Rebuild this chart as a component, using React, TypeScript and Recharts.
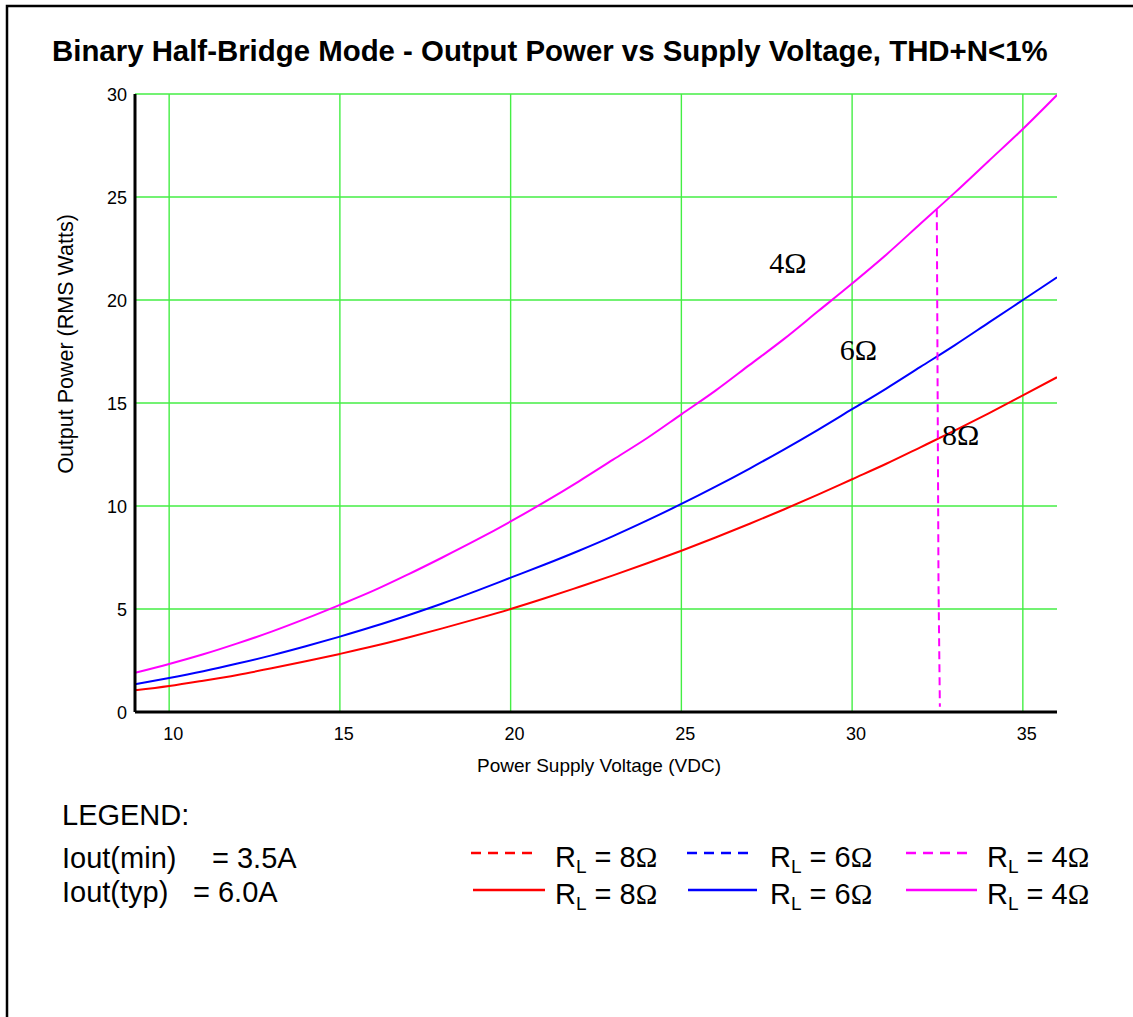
import React from 'react';
import { LineChart, Line, XAxis, YAxis, CartesianGrid, ReferenceDot } from 'recharts';

// ---- data ----
const voltage = [9, 10, 11, 12, 13, 14, 15, 16, 17, 18, 19, 20, 21, 22, 23, 24, 25, 26, 27, 28, 29, 30, 31, 32, 33, 34, 35, 36];
const power8 = [1.05, 1.26, 1.52, 1.8, 2.12, 2.46, 2.82, 3.2, 3.62, 4.06, 4.52, 5.0, 5.52, 6.07, 6.63, 7.22, 7.83, 8.47, 9.14, 9.83, 10.55, 11.3, 12.05, 12.85, 13.66, 14.5, 15.37, 16.25];
const power6 = [1.35, 1.65, 1.98, 2.35, 2.75, 3.19, 3.66, 4.16, 4.7, 5.27, 5.88, 6.52, 7.16, 7.83, 8.54, 9.3, 10.1, 10.94, 11.82, 12.74, 13.7, 14.7, 15.7, 16.75, 17.8, 18.9, 20.0, 21.1];
const power4 = [1.9, 2.33, 2.8, 3.33, 3.9, 4.53, 5.2, 5.9, 6.68, 7.5, 8.35, 9.25, 10.2, 11.2, 12.25, 13.3, 14.45, 15.6, 16.85, 18.1, 19.45, 20.8, 22.2, 23.7, 25.2, 26.75, 28.3, 29.95];
const min4Voltage = [32.48, 32.53, 32.57];
const min4Power = [24.4, 6.2, 0.25];

const xTicks = [10, 15, 20, 25, 30, 35];
const yTicks = [0, 5, 10, 15, 20, 25, 30];
const xDomain = [9, 36];
const yDomain = [0, 30];

const curveLabelText = ['4Ω', '6Ω', '8Ω'];
const curveLabelV = [27.57, 29.64, 32.63];
const curveLabelP = [21.33, 17.09, 12.96];

const title = 'Binary Half-Bridge Mode - Output Power vs Supply Voltage, THD+N<1%';
const xLabel = 'Power Supply Voltage (VDC)';
const yLabel = 'Output Power (RMS Watts)';
const legendHead = 'LEGEND:';
const currentNames = ['Iout(min)', 'Iout(typ)'];
const currentValues = ['= 3.5A', '= 6.0A'];
const loadOhms = ['8', '6', '4'];
const colors = ['#ff0000', '#0000ff', '#ff00ff'];

const build = (vs: number[], ps: number[]) => vs.map((v, i) => ({ v, p: ps[i] }));
const data8 = build(voltage, power8);
const data6 = build(voltage, power6);
const data4 = build(voltage, power4);
const dataMin4 = build(min4Voltage, min4Power);

const SANS = 'Liberation Sans, Arial, Helvetica, sans-serif';
const SERIF = 'Liberation Serif, Times New Roman, serif';

const W = 1133;
const H = 1017;

const XTick = (props: any) => {
  const { x, y, payload } = props;
  return (
    <text x={x + 4} y={y + 20} textAnchor="middle" fontSize={18} fontFamily={SANS} fill="#000">
      {payload.value}
    </text>
  );
};

const YTick = (props: any) => {
  const { x, y, payload } = props;
  return (
    <text x={x} y={y + 6.5} textAnchor="end" fontSize={18} fontFamily={SANS} fill="#000">
      {payload.value}
    </text>
  );
};

const makeLabelShape = (text: string) => (props: any) => (
  <text x={props.cx} y={props.cy} fontSize={30} fontFamily={SERIF} fill="#000">
    {text}
  </text>
);

const legendDashX = [[471, 538], [687, 752], [906, 972]];
const legendSolidX = [[473, 545], [688, 757], [906, 977]];
const legendTextX = [555, 770, 987];
const currentValueX = [212, 193];

export default function App() {
  return (
    <div style={{ position: 'absolute', left: 0, top: 0, width: W, height: H, background: '#fff' }}>
      <LineChart
        width={W}
        height={H}
        margin={{ top: 94, right: 76, bottom: 265, left: 75 }}
      >
        <CartesianGrid stroke="#44ee44" strokeWidth={1.4} horizontalValues={yTicks} verticalValues={xTicks} />
        <XAxis
          dataKey="v"
          type="number"
          domain={xDomain}
          ticks={xTicks}
          allowDataOverflow
          tickLine={false}
          axisLine={{ stroke: '#000', strokeWidth: 3 }}
          height={40}
          tick={<XTick />}
          interval={0}
        />
        <XAxis
          xAxisId="top"
          orientation="top"
          type="number"
          domain={xDomain}
          tick={false}
          tickLine={false}
          axisLine={{ stroke: '#000', strokeWidth: 3 }}
          height={0}
        />
        <YAxis
          type="number"
          domain={yDomain}
          ticks={yTicks}
          allowDataOverflow
          tickLine={false}
          axisLine={{ stroke: '#000', strokeWidth: 3 }}
          width={60}
          tick={<YTick />}
          interval={0}
        />
        <YAxis
          yAxisId="right"
          orientation="right"
          type="number"
          domain={yDomain}
          tick={false}
          tickLine={false}
          axisLine={{ stroke: '#000', strokeWidth: 3 }}
          width={0}
        />
        <Line data={data8} dataKey="p" stroke={colors[0]} strokeWidth={2} dot={false} isAnimationActive={false} type="monotone" />
        <Line data={data6} dataKey="p" stroke={colors[1]} strokeWidth={2} dot={false} isAnimationActive={false} type="monotone" />
        <Line data={data4} dataKey="p" stroke={colors[2]} strokeWidth={2} dot={false} isAnimationActive={false} type="monotone" />
        <Line data={dataMin4} dataKey="p" stroke={colors[2]} strokeWidth={2} strokeDasharray="8 5" dot={false} isAnimationActive={false} type="linear" />
        {curveLabelText.map((t, i) => (
          <ReferenceDot key={t} x={curveLabelV[i]} y={curveLabelP[i]} r={0} shape={makeLabelShape(t)} />
        ))}
      </LineChart>
      <svg
        width={W}
        height={H}
        style={{ position: 'absolute', left: 0, top: 0, pointerEvents: 'none' }}
      >
        <rect x={7} y={6} width={W + 20} height={H + 20} fill="none" stroke="#000" strokeWidth={2.5} />
        <text x={52} y={61} fontSize={29.4} fontWeight="bold" fontFamily={SANS} fill="#000">
          {title}
        </text>
        <text x={599} y={772} textAnchor="middle" fontSize={19} fontFamily={SANS} fill="#000">
          {xLabel}
        </text>
        <text
          x={0}
          y={0}
          transform="translate(73,344) rotate(-90)"
          textAnchor="middle"
          fontSize={21.5}
          fontFamily={SANS}
          fill="#000"
        >
          {yLabel}
        </text>
        <text x={62} y={825} fontSize={29} fontFamily={SANS} fill="#000">{legendHead}</text>
        {currentNames.map((n, i) => (
          <g key={n}>
            <text x={62} y={868 + i * 34} fontSize={29} fontFamily={SANS} fill="#000">{n}</text>
            <text x={currentValueX[i]} y={868 + i * 34} fontSize={29} fontFamily={SANS} fill="#000">{currentValues[i]}</text>
          </g>
        ))}
        {loadOhms.map((o, i) => (
          <g key={o}>
            <line x1={legendDashX[i][0]} x2={legendDashX[i][1]} y1={853} y2={853} stroke={colors[i]} strokeWidth={2.5} strokeDasharray="10 7" />
            <line x1={legendSolidX[i][0]} x2={legendSolidX[i][1]} y1={890} y2={890} stroke={colors[i]} strokeWidth={2.5} />
            {[867, 904].map((by) => (
              <text key={by} x={legendTextX[i]} y={by} fontSize={29} fontFamily={SANS} fill="#000">
                R<tspan fontSize={19} dy={6}>L</tspan>
                <tspan dy={-6}> = {o}</tspan>
                <tspan fontFamily={SERIF}>Ω</tspan>
              </text>
            ))}
          </g>
        ))}
      </svg>
    </div>
  );
}
